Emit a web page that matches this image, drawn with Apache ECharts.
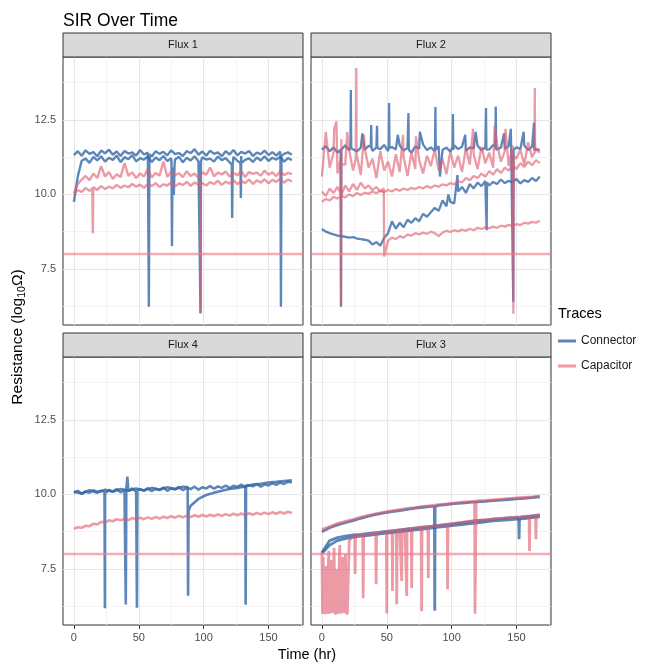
<!DOCTYPE html>
<html><head><meta charset="utf-8">
<script src="https://cdn.jsdelivr.net/npm/echarts@6/dist/echarts.min.js"></script>
<style>html,body{margin:0;padding:0;background:#fff}#c{width:659px;height:667px}</style>
</head><body><div id="c"></div>
<script>
// ---------- axes / ticks ----------
const timeTicks = [0, 50, 100, 150];
const timeMinor = [25, 75, 125, 175];
const resTicks = [7.5, 10, 12.5];
const resMinor = [6.25, 8.75, 11.25, 13.75];
const threshold = 8;
const facetNames = ['Flux 1', 'Flux 2', 'Flux 4', 'Flux 3'];
const traceNames = ['Connector', 'Capacitor'];

// ---------- sample times (hr) ----------
const hours3 = [0,3,6,9,12,15,18,21,24,27,30,33,36,39,42,45,48,51,54,57,60,63,66,69,72,75,78,81,84,87,90,93,96,99,102,105,108,111,114,117,120,123,126,129,132,135,138,141,144,147,150,153,156,159,162,165,168];
const hours6 = [0,6,12,18,24,30,36,42,48,54,60,66,72,78,84,90,96,102,108,114,120,126,132,138,144,150,156,162,168];

// ---------- Flux 1 ----------
const f1ConnA = [11.32,11.45,11.30,11.48,11.36,11.42,11.28,11.47,11.38,11.50,
  11.33,11.44,11.29,11.46,11.37,11.41,11.30,11.49,11.34,11.40,
  11.27,11.45,11.36,11.43,11.31,11.48,11.35,11.39,11.29,11.46,
  11.38,11.52,11.33,11.44,11.30,11.47,11.36,11.41,11.28,11.45,
  11.34,11.49,11.31,11.43,11.37,11.46,11.29,11.40,11.35,11.47,
  11.32,11.42,11.30,11.44,11.36,11.41,11.33];
const f1ConnASpikes = [[57.4,11.35],[57.8,6.23],[58.2,11.35],[159.2,11.3],[159.6,6.23],[160.0,11.3]];
const f1ConnB = [9.75,10.60,11.13,11.20,11.06,11.26,11.14,11.28,11.10,11.23,
  11.16,11.30,11.08,11.25,11.18,11.32,11.11,11.22,11.17,11.27,
  11.09,11.24,11.15,11.29,11.12,11.21,11.18,11.26,11.08,11.23,
  11.14,11.28,11.11,11.25,11.17,11.20,11.10,11.27,11.15,11.22,
  11.08,11.26,11.13,11.29,11.16,11.21,11.09,11.24,11.14,11.28,
  11.12,11.23,11.17,11.26,11.10,11.22,11.15];
const f1ConnBSpikes = [[75.2,11.1],[75.6,8.27],[76.0,10.9],[77.0,9.98],[77.6,11.0],[97.3,11.1],[97.6,6.02],[97.9,11.1],[121.7,11.0],[122.0,9.21],[122.4,11.0],[128.4,11.05],[128.7,9.88],[129.0,11.05]];
const f1CapA = [10.02,10.15,10.08,10.22,10.12,10.25,10.15,10.28,10.18,10.26,
  10.20,10.32,10.22,10.30,10.24,10.35,10.26,10.33,10.22,10.36,
  10.28,10.38,10.25,10.34,10.30,10.40,10.27,10.37,10.31,10.42,
  10.29,10.40,10.33,10.44,10.30,10.41,10.35,10.46,10.32,10.43,
  10.36,10.48,10.34,10.45,10.38,10.50,10.35,10.47,10.40,10.51,
  10.37,10.49,10.42,10.53,10.39,10.50,10.44];
const f1CapASpikes = [[14.2,10.2],[14.6,8.7],[14.9,10.25],[97.3,10.45],[97.6,6.0],[97.9,10.4]];
const f1CapB = [10.05,10.35,10.50,10.62,10.48,10.70,10.55,10.95,10.60,10.75,
  10.52,10.68,10.58,11.05,10.62,10.74,10.55,10.70,10.60,10.85,
  10.57,10.72,10.63,11.10,10.59,10.76,10.65,10.71,10.58,10.78,
  10.62,10.70,10.56,10.74,10.66,10.90,10.61,10.73,10.67,10.77,
  10.60,10.72,10.64,10.79,10.58,10.75,10.69,10.73,10.63,10.80,
  10.66,10.74,10.61,10.78,10.65,10.72,10.68];

// ---------- Flux 2 ----------
const f2ConnA = [11.50,11.62,11.45,11.58,11.40,11.55,11.65,11.48,11.60,11.44,
  11.57,11.50,11.63,11.46,11.58,11.52,11.66,11.45,11.59,11.51,
  11.64,11.47,11.56,11.40,11.61,11.53,11.67,11.49,11.58,11.45,
  11.62,11.50,11.57,11.43,11.65,11.52,11.60,11.46,11.58,11.54,
  11.63,11.48,11.59,11.51,11.66,11.45,11.57,11.53,11.62,11.47,
  11.58,11.52,11.64,11.49,11.60,11.55,11.50];
const f2ConnASpikes = [[14.4,11.5],[14.7,6.23],[14.95,11.5],[22.0,11.6],[22.3,13.5],[22.6,11.55],[31.2,12.05],
  [37.7,11.6],[38.0,12.33],[38.3,11.55],[42.2,11.6],[42.5,12.3],[42.8,11.55],[51.5,11.6],[51.8,13.07],[52.1,11.55],
  [58.5,12.0],[66.4,11.6],[66.7,12.73],[67.0,11.5],[75.5,12.1],[87.2,11.6],[87.5,12.93],[87.8,11.5],[91.0,10.6],
  [100.7,11.6],[101.0,12.7],[101.3,11.5],[110.5,12.0],[118.5,12.1],[126.2,11.6],[126.5,12.9],[126.8,11.5],
  [133.7,11.6],[134.0,12.95],[134.3,11.5],[140.5,12.05],[145.3,11.6],[145.6,12.2],[145.9,11.5],
  [147.2,11.5],[147.5,6.4],[147.8,11.5],[155.5,12.1],[163.2,11.6],[163.5,12.4],[163.8,11.5]];
const f2ConnB = [8.84,8.75,8.70,8.66,8.62,8.60,8.58,8.55,8.57,8.52,
  8.50,8.48,8.45,8.32,8.40,8.28,8.55,8.70,9.10,8.85,
  9.05,8.90,9.15,9.05,9.20,9.10,9.35,9.25,9.40,9.55,
  9.45,9.80,9.60,9.75,9.70,10.10,10.25,10.05,10.35,10.20,
  10.40,10.28,10.45,10.30,10.42,10.35,10.50,10.38,10.46,10.40,
  10.52,10.37,10.48,10.42,10.55,10.45,10.60];
const f2ConnBSpikes = [[97.5,10.0],[104.5,10.65],[126.7,10.4],[127.0,8.8],[127.3,10.4]];
const f2CapC = [10.10,9.95,10.20,10.05,10.25,10.00,10.30,10.10,10.35,10.15,
  10.40,10.20,10.30,10.15,10.25,10.10,7.92,8.45,8.55,8.50,
  8.60,8.55,8.65,8.62,8.70,8.66,8.72,8.68,8.75,8.70,
  8.60,8.72,8.78,8.74,8.80,8.76,8.82,8.78,8.85,8.80,
  8.88,8.84,8.90,8.86,8.92,8.88,8.95,8.92,8.98,8.94,
  9.00,8.97,9.05,9.02,9.08,9.05,9.12];
const f2CapCSpikes = [[47.7,10.2]];
const f2CapD = [9.75,9.85,9.80,9.92,9.86,9.95,9.90,10.00,9.94,10.05,
  9.98,10.06,10.02,10.10,10.04,10.12,10.08,10.15,10.10,10.18,
  10.12,10.20,10.15,10.22,10.18,10.25,10.20,10.28,10.22,10.30,
  10.26,10.34,10.30,10.38,10.34,10.45,10.40,10.55,10.48,10.62,
  10.55,10.70,10.60,10.78,10.66,10.85,10.72,10.90,10.80,11.00,
  10.85,11.05,10.92,11.10,10.98,11.15,11.05];
const f2CapE = [10.60,12.10,10.90,11.40,10.70,11.85,11.00,11.50,10.80,11.30,
  10.65,11.55,10.90,11.20,10.55,11.45,10.80,11.10,10.60,11.35,
  10.75,11.25,10.62,11.40,10.85,11.15,10.70,11.30,10.95,11.50,
  10.80,11.20,10.68,11.45,10.90,11.30,10.75,11.55,11.00,11.35,
  10.85,11.60,11.05,11.40,10.90,11.70,11.10,11.45,10.95,11.65,
  11.20,11.50,11.00,11.75,11.25,11.55,11.40];
const f2CapESpikes = [[9.5,12.2],[11.2,12.45],[14.5,11.2],[14.8,6.3],[15.1,11.0],[19.5,12.1],[26.2,11.2],[26.5,14.24],[26.8,11.2],
  [32.5,12.0],[62.5,12.0],[72.5,11.95],[116.5,12.2],[133.2,12.3],[141.5,12.2],[147.3,11.3],[147.6,6.0],[147.9,11.3],
  [163.8,11.4],[164.1,13.57],[164.4,11.4]];

// ---------- Flux 4 ----------
const f4ConnA = [10.05,10.12,10.02,10.10,10.06,10.14,10.08,10.12,10.04,10.15,
  10.10,10.18,10.07,10.16,10.12,10.20,10.09,10.17,10.13,10.21,
  10.11,10.19,10.15,10.23,10.12,10.20,10.17,10.25,10.14,10.22,
  10.18,10.26,10.16,10.24,10.20,10.28,10.19,10.27,10.22,10.30,
  10.21,10.29,10.25,10.33,10.23,10.31,10.27,10.35,10.26,10.34,
  10.30,10.38,10.32,10.40,10.35,10.43,10.40];
const f4ConnASpikes = [[23.6,10.1],[23.9,6.18],[24.2,10.08],[39.6,10.15],[40.0,6.31],[40.4,10.15],[41.2,10.6],
  [48.3,10.15],[48.6,6.2],[48.9,10.15],[132.1,10.3],[132.4,6.3],[132.7,10.3]];
const f4ConnB = [10.10,10.03,10.14,10.06,10.16,10.09,10.18,10.12,10.20,10.13,10.22,10.16,10.24,10.18,10.26,
  9.62,9.85,9.98,10.06,10.12,10.18,10.22,10.27,10.33,10.36,10.40,10.42,10.45,10.47];
const f4ConnBSpikes = [[87.7,10.25],[88.0,6.6],[88.4,9.45]];
const f4Cap = [8.85,8.90,8.88,8.95,8.93,9.02,8.99,9.08,9.05,9.13,
  9.10,9.17,9.13,9.19,9.14,9.21,9.16,9.22,9.17,9.23,
  9.18,9.24,9.19,9.25,9.21,9.27,9.22,9.28,9.23,9.29,
  9.24,9.30,9.25,9.31,9.26,9.32,9.27,9.33,9.28,9.34,
  9.29,9.35,9.30,9.36,9.31,9.37,9.32,9.38,9.33,9.39,
  9.34,9.40,9.35,9.41,9.36,9.42,9.38];

// ---------- Flux 3 ----------
const f3ConnUpper = [8.75,8.88,8.98,9.05,9.12,9.20,9.27,9.33,9.38,9.42,9.46,9.50,9.54,9.57,9.60,9.63,9.66,9.69,9.71,9.73,9.75,9.77,9.79,9.81,9.83,9.85,9.87,9.89,9.92];
const f3ConnUpperSpikes = [[86.7,9.6],[87.0,6.1],[87.3,9.6]];
const f3CapUpper = [8.82,8.92,9.02,9.10,9.16,9.24,9.30,9.36,9.41,9.45,9.49,9.53,9.56,9.60,9.62,9.66,9.68,9.71,9.74,9.76,9.78,9.80,9.82,9.84,9.86,9.88,9.90,9.92,9.95];
const f3CapUpperSpikes = [[117.7,9.77],[118.0,6.0],[118.6,6.0],[118.9,9.78]];
const f3ConnLower = [8.05,8.45,8.55,8.60,8.64,8.66,8.69,8.72,8.75,8.78,8.81,8.84,8.87,8.90,8.93,8.96,8.99,9.02,9.05,9.09,9.12,9.14,9.17,9.19,9.21,9.23,9.25,9.28,9.31];
const f3ConnLowerSpikes = [[151.7,9.22],[152.0,8.5],[152.3,9.22]];
const f3ConnLower2 = [8.02,8.30,8.45,8.52,8.57,8.60,8.63,8.66,8.69,8.72,8.75,8.78,8.81,8.84,8.87,8.90,8.93,8.96,8.99,9.02,9.05,9.08,9.11,9.13,9.15,9.17,9.19,9.22,9.25];
const f3CapLower = [[0,8.05],[0.5,6.0],[1.0,7.9],[1.5,6.0],[2.2,6.1],[2.8,5.98],[3.3,7.6],[3.8,6.0],[4.6,6.05],[5.3,8.1],[5.8,6.0],
  [6.6,5.98],[7.3,7.8],[7.8,6.02],[8.6,6.0],[9.4,8.2],[9.9,6.05],[10.8,5.98],[11.6,7.5],[12.1,6.0],[13.0,6.03],[13.8,8.3],[14.3,6.0],
  [15.2,5.98],[16.0,7.9],[16.5,6.02],[17.4,6.0],[18.2,8.0],[18.7,6.05],[19.6,5.98],[20.4,6.04],
  [21.1,8.45],[23,8.55],[25.3,8.58],[25.6,7.33],[25.9,8.6],[28,8.62],[31.5,8.64],[31.8,6.52],[32.2,8.65],[35,8.66],[38,8.68],
  [41.5,8.70],[41.8,6.99],[42.1,8.71],[45,8.72],[48,8.74],[49.7,8.75],[50.0,6.01],[50.3,8.76],[52,8.77],[54.1,8.78],[54.4,6.76],[54.7,8.78],
  [57.4,8.80],[57.7,6.32],[58.0,8.80],[60,8.81],[61.2,8.82],[61.5,7.10],[61.8,8.82],[64,8.83],[65.1,8.84],[65.4,6.59],[65.7,8.84],
  [67,8.85],[68.9,8.86],[69.2,6.86],[69.5,8.86],[73,8.88],[76.6,8.90],[76.9,6.08],[77.2,8.90],[80,8.91],[81.7,8.92],[82.0,7.20],[82.3,8.92],
  [86,8.94],[90,8.96],[96.6,9.00],[96.9,6.82],[97.2,9.00],[102,9.03],[108,9.06],[114,9.10],[120,9.13],[126,9.15],[132,9.18],[138,9.20],
  [144,9.22],[150,9.24],[156,9.26],[159.7,9.27],[160.0,8.10],[160.3,9.27],[164.7,9.28],[165.0,8.50],[165.3,9.29],[168,9.31]];

// ---------- build ----------
function trace(times, values, extra) {
  const pts = times.map((t, i) => [t, values[i]]);
  if (extra) extra.forEach(p => pts.push(p));
  pts.sort((a, b) => a[0] - b[0]);
  return pts;
}
const panelTraces = [
  { conn: [trace(hours3, f1ConnA, f1ConnASpikes), trace(hours3, f1ConnB, f1ConnBSpikes)],
    cap: [trace(hours3, f1CapA, f1CapASpikes), trace(hours3, f1CapB)], w: 2.4 },
  { conn: [trace(hours3, f2ConnA, f2ConnASpikes), trace(hours3, f2ConnB, f2ConnBSpikes)],
    cap: [trace(hours3, f2CapC, f2CapCSpikes), trace(hours3, f2CapD), trace(hours3, f2CapE, f2CapESpikes)], w: 2.3 },
  { conn: [trace(hours3, f4ConnA, f4ConnASpikes), trace(hours6, f4ConnB, f4ConnBSpikes)],
    cap: [trace(hours3, f4Cap)], w: 2.6 },
  { conn: [trace(hours6, f3ConnUpper, f3ConnUpperSpikes), trace(hours6, f3ConnLower, f3ConnLowerSpikes), trace(hours6, f3ConnLower2)],
    cap: [trace(hours6, f3CapUpper, f3CapUpperSpikes), f3CapLower], w: 2.8 }
];

const FONT = '"Liberation Sans", Arial, sans-serif';
const BLUE = 'rgba(52,104,168,0.8)';
const RED = 'rgba(222,92,112,0.62)';
const layout = [
  { left: 63, top: 57, showX: false, showY: true },
  { left: 311, top: 57, showX: false, showY: false },
  { left: 63, top: 357, showX: true, showY: true },
  { left: 311, top: 357, showX: true, showY: false }
];
const PW = 240, PH = 268;
const grids = [], xAxes = [], yAxes = [], series = [], graphics = [];

layout.forEach((L, i) => {
  grids.push({ left: L.left, top: L.top, width: PW, height: PH, show: true, borderColor: '#333', borderWidth: 1, backgroundColor: '#fff', containLabel: false });
  xAxes.push({
    type: 'value', gridIndex: i, min: -8.4, max: 176.6,
    axisLine: { show: false }, splitLine: { show: false },
    axisTick: { show: L.showX, customValues: timeTicks, length: 4, lineStyle: { color: '#333', width: 1 } },
    axisLabel: { show: L.showX, customValues: timeTicks, margin: 7, color: '#4d4d4d', fontSize: 11, fontFamily: FONT }
  });
  yAxes.push({
    type: 'value', gridIndex: i, min: 5.62, max: 14.61,
    axisLine: { show: false }, splitLine: { show: false },
    axisTick: { show: L.showY, customValues: resTicks, length: 4, lineStyle: { color: '#333', width: 1 } },
    axisLabel: { show: L.showY, customValues: resTicks, margin: 7, color: '#4d4d4d', fontSize: 11, fontFamily: FONT,
      formatter: v => v.toFixed(1) }
  });
  const gl = [];
  timeMinor.forEach(v => gl.push({ xAxis: v, lineStyle: { color: '#f1f1f1', width: 0.8, type: 'solid' } }));
  resMinor.forEach(v => gl.push({ yAxis: v, lineStyle: { color: '#f1f1f1', width: 0.8, type: 'solid' } }));
  timeTicks.forEach(v => gl.push({ xAxis: v, lineStyle: { color: '#e6e6e6', width: 1.1, type: 'solid' } }));
  resTicks.forEach(v => gl.push({ yAxis: v, lineStyle: { color: '#e6e6e6', width: 1.1, type: 'solid' } }));
  series.push({ type: 'line', name: 'grid' + i, xAxisIndex: i, yAxisIndex: i, data: [], silent: true, z: 1,
    markLine: { silent: true, z: 1, symbol: ['none', 'none'], label: { show: false }, animation: false, data: gl } });
  const P = panelTraces[i];
  P.conn.forEach(d => series.push({ type: 'line', name: 'Connector', xAxisIndex: i, yAxisIndex: i, data: d, z: 2,
    showSymbol: false, symbol: 'none', animation: false, color: BLUE, itemStyle: { color: BLUE },
    lineStyle: { color: BLUE, width: P.w } }));
  P.cap.forEach(d => series.push({ type: 'line', name: 'Capacitor', xAxisIndex: i, yAxisIndex: i, data: d, z: 2,
    showSymbol: false, symbol: 'none', animation: false, color: RED, itemStyle: { color: RED },
    lineStyle: { color: RED, width: P.w } }));
  series.push({ type: 'line', name: 'hline' + i, xAxisIndex: i, yAxisIndex: i, data: [], silent: true, z: 5,
    markLine: { silent: true, z: 5, symbol: ['none', 'none'], label: { show: false }, animation: false,
      lineStyle: { color: 'rgba(240,128,140,0.65)', width: 2.4, type: 'solid' }, data: [{ yAxis: threshold }] } });
  // facet strip
  graphics.push({ type: 'rect', shape: { x: L.left, y: L.top - 24, width: PW, height: 24 },
    style: { fill: '#d9d9d9', stroke: '#333', lineWidth: 1 }, z: 10 });
  graphics.push({ type: 'text', x: L.left + PW / 2, y: L.top - 12, z: 11,
    style: { text: facetNames[i], fill: '#1a1a1a', font: '11px ' + FONT, textAlign: 'center', textVerticalAlign: 'middle' } });
});

graphics.push({ type: 'text', x: 307, y: 655, style: { text: 'Time (hr)', fill: '#000', font: '14.5px ' + FONT, textAlign: 'center', textVerticalAlign: 'middle' } });
graphics.push({ type: 'text', x: 18, y: 337, rotation: Math.PI / 2,
  style: { text: '{m|Resistance (log}{s|10}{m|Ω)}', fill: '#000', textAlign: 'center', textVerticalAlign: 'middle',
    rich: { m: { fontSize: 15.5, fontFamily: FONT, lineHeight: 19, verticalAlign: 'middle', fill: '#000' },
            s: { fontSize: 10.5, fontFamily: FONT, lineHeight: 10, verticalAlign: 'bottom', fill: '#000' } } } });
graphics.push({ type: 'text', x: 558, y: 314, style: { text: 'Traces', fill: '#000', font: '14.5px ' + FONT, textAlign: 'left', textVerticalAlign: 'middle' } });

const chart = echarts.init(document.getElementById('c'), null, { renderer: 'canvas' });
chart.setOption({
  backgroundColor: '#fff',
  animation: false,
  title: { text: 'SIR Over Time', left: 58, top: 7, textStyle: { fontSize: 17.5, fontWeight: 'normal', color: '#000', fontFamily: FONT } },
  legend: { data: traceNames.map(n => ({ name: n, icon: 'rect' })), orient: 'vertical', left: 558, top: 335,
    itemWidth: 18, itemHeight: 3, itemGap: 13, selectedMode: false, padding: 0,
    textStyle: { fontSize: 12, color: '#1a1a1a', fontFamily: FONT } },
  grid: grids, xAxis: xAxes, yAxis: yAxes, series: series, graphic: graphics
});
</script></body></html>
